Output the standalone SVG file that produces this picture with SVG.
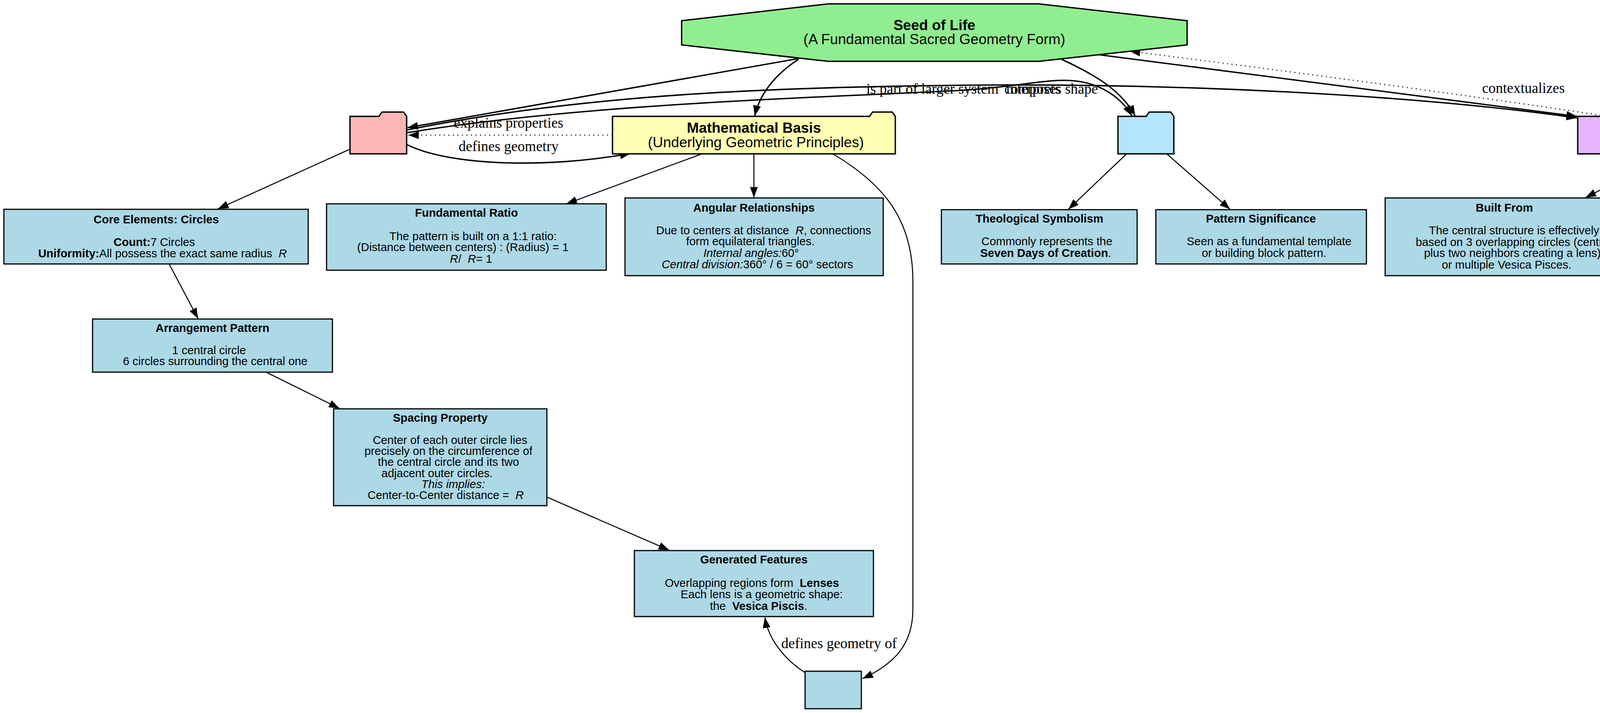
<svg xmlns="http://www.w3.org/2000/svg" width="5664" height="1826" viewBox="0 0 5664 1826">
<style>
text{white-space:pre;fill:#000}
.big{font-family:"Liberation Sans",Arial,sans-serif;font-size:37px;text-anchor:middle}
.nt{font-family:"Liberation Sans",Arial,sans-serif;font-size:29.3px;text-anchor:middle}
.b{font-weight:bold}
.i{font-style:italic}
.el{font-family:"Liberation Serif","Times New Roman",serif;font-size:37px;text-anchor:middle}
.box{fill:#ADD8E6;stroke:#000;stroke-width:3}
.fold{stroke:#000;stroke-width:3.5}
.e{fill:none;stroke:#000;stroke-width:2.6}
.e2{fill:none;stroke:#000;stroke-width:3.6}
.dot{fill:none;stroke:#000;stroke-width:2.6;stroke-dasharray:2.6 9}
</style>
<defs>
<marker id="ah" viewBox="0 0 27 20" markerWidth="27" markerHeight="20" refX="27" refY="10" orient="auto" markerUnits="userSpaceOnUse">
<path d="M0,0 L27,10 L0,20 z" fill="#000"/>
</marker>
</defs>
<rect width="5664" height="1826" fill="#fff"/>

<g id="connectors">
<path class="e2" d="M2044,150 L1043,327" marker-end="url(#ah)"/>
<path class="e2" d="M2044,152 C1985,190 1945,240 1932,297" marker-end="url(#ah)"/>
<path class="e2" d="M2718,152 C2800,190 2870,230 2906,297" marker-end="url(#ah)"/>
<path class="e2" d="M2812,140 L4037,298" marker-end="url(#ah)"/>
<path class="dot" d="M4109,297 C3700,235 3200,170 2892,131" marker-end="url(#ah)"/>
<path class="e2" d="M1041,333 C1500,240 2000,222 2500,218 C3000,214 3600,240 4037,302" marker-end="url(#ah)"/>
<path class="e2" d="M1041,340 C1500,265 2100,250 2450,232 C2600,224 2680,200 2750,207 C2820,214 2870,250 2898,297" marker-end="url(#ah)"/>
<path class="dot" d="M1568,346 L1045,346" marker-end="url(#ah)"/>
<path class="e2" d="M1041,370 C1150,425 1400,432 1614,393" marker-end="url(#ah)"/>
<path class="e" d="M896,382 L558,535" marker-end="url(#ah)"/>
<path class="e" d="M1797,394 L1450,522" marker-end="url(#ah)"/>
<path class="e" d="M1930,394 L1930,506" marker-end="url(#ah)"/>
<path class="e" d="M2132,394 C2260,470 2337,560 2337,720 L2337,1560 C2337,1650 2290,1700 2208,1738" marker-end="url(#ah)"/>
<path class="e" d="M2883,395 L2735,536" marker-end="url(#ah)"/>
<path class="e" d="M2988,395 L3149,536" marker-end="url(#ah)"/>
<path class="e" d="M4279,393 L4059,506" marker-end="url(#ah)"/>
<path class="e" d="M4410,393 L4514,536" marker-end="url(#ah)"/>
<path class="e" d="M4574,393 L4975,494" marker-end="url(#ah)"/>
<path class="e" d="M433,676 L507,816" marker-end="url(#ah)"/>
<path class="e" d="M681,953 L869,1046" marker-end="url(#ah)"/>
<path class="e" d="M1400,1273 L1713,1409" marker-end="url(#ah)"/>
<path class="e" d="M2063,1724 C2010,1690 1968,1640 1958,1581" marker-end="url(#ah)"/>
<text class="el" x="1302" y="327">explains properties</text>
<text class="el" x="1302" y="387">defines geometry</text>
<text class="el" x="2387" y="240">is part of larger system</text>
<text class="el" x="2691" y="240">composes shape</text>
<text class="el" x="2645" y="240">interprets</text>
<text class="el" x="3900" y="238">contextualizes</text>
<text class="el" x="2148" y="1660">defines geometry of</text>
</g>

<g id="seed">
<polygon points="2120,10 2660,10 3039,53 3039,115 2660,157 2120,157 1745,115 1745,53" fill="#90EE90" stroke="#000" stroke-width="3.5"/>
<text class="big b" x="2392" y="77">Seed of Life</text>
<text class="big" x="2392" y="113">(A Fundamental Sacred Geometry Form)</text>
</g>

<g id="core_structure">
<polygon class="fold" fill="#FFB6B6" points="896,394 896,298 970,298 978,287 1033,287 1041,298 1041,394"/>
</g>

<g id="math_basis">
<polygon class="fold" fill="#FFFFB3" points="1568,394 1568,298 2226,298 2234,287 2284,287 2292,298 2292,394"/>
<text class="big b" x="1930" y="340">Mathematical Basis</text>
<text class="big" x="1935" y="377">(Underlying Geometric Principles)</text>
</g>

<g id="symbolism">
<polygon class="fold" fill="#B3E5FC" points="2862,394 2862,298 2934,298 2942,287 2997,287 3005,298 3005,394"/>
</g>

<g id="relationship">
<polygon class="fold" fill="#E6B3FF" points="4039,394 4039,298 4638,298 4646,287 4704,287 4712,298 4712,394"/>
<text class="big b" x="4388" y="353">Relationship to Other Forms</text>
</g>

<g id="core_elements">
<rect class="box" x="10" y="536" width="779" height="140"/>
<text class="nt b" x="400" y="572">Core Elements: Circles</text>
<text class="nt" x="395" y="630"><tspan class="b">Count:</tspan>7 Circles</text>
<text class="nt" x="416" y="659"><tspan class="b">Uniformity:</tspan>All possess the exact same radius  <tspan class="i">R</tspan></text>
</g>

<g id="fundamental_ratio">
<rect class="box" x="836" y="522" width="716" height="170"/>
<text class="nt b" x="1194" y="555">Fundamental Ratio</text>
<text class="nt" x="1211" y="615">The pattern is built on a 1:1 ratio:</text>
<text class="nt" x="1185" y="643">(Distance between centers) : (Radius) = 1</text>
<text class="nt" x="1206" y="673"><tspan class="i">R</tspan>/  <tspan class="i">R</tspan>= 1</text>
</g>

<g id="angular">
<rect class="box" x="1600" y="507" width="661" height="199"/>
<text class="nt b" x="1930" y="542">Angular Relationships</text>
<text class="nt" x="1955" y="600">Due to centers at distance  <tspan class="i">R</tspan>, connections</text>
<text class="nt" x="1921" y="628">form equilateral triangles.</text>
<text class="nt" x="1923" y="658"><tspan class="i">Internal angles:</tspan>60°</text>
<text class="nt" x="1939" y="687"><tspan class="i">Central division:</tspan>360° / 6 = 60° sectors</text>
</g>

<g id="theological">
<rect class="box" x="2410" y="537" width="501" height="139"/>
<text class="nt b" x="2661" y="570">Theological Symbolism</text>
<text class="nt" x="2680" y="628">Commonly represents the</text>
<text class="nt" x="2677" y="658"><tspan class="b">Seven Days of Creation</tspan>.</text>
</g>

<g id="pattern_significance">
<rect class="box" x="2959" y="537" width="539" height="139"/>
<text class="nt b" x="3228" y="570">Pattern Significance</text>
<text class="nt" x="3249" y="628">Seen as a fundamental template</text>
<text class="nt" x="3236" y="658">or building block pattern.</text>
</g>

<g id="built_from">
<rect class="box" x="3546" y="507" width="610" height="199"/>
<text class="nt b" x="3851" y="542">Built From</text>
<text class="nt" x="3876" y="600">The central structure is effectively</text>
<text class="nt" x="3875" y="630">based on 3 overlapping circles (central</text>
<text class="nt" x="3876" y="658">plus two neighbors creating a lens),</text>
<text class="nt" x="3857" y="688">or multiple Vesica Pisces.</text>
</g>

<g id="component">
<rect class="box" x="4204" y="537" width="722" height="139"/>
<text class="nt b" x="4565" y="570">Component / Precursor To</text>
<text class="nt" x="4585" y="630">An integral part and foundational</text>
<text class="nt" x="4573" y="658">segment of the larger  <tspan class="b">Flower of Life</tspan>pattern.</text>
</g>

<g id="leads_towards">
<rect class="box" x="4977" y="492" width="676" height="227"/>
<text class="nt b" x="5315" y="527">Leads Towards</text>
<text class="nt" x="5334" y="587">Expansion of the pattern (adding</text>
<text class="nt" x="5334" y="615">more rings of circles) generates</text>
<text class="nt" x="5334" y="643">the Flower of Life, which contains</text>
<text class="nt" x="5310" y="673">the  <tspan class="b">Fruit of Life</tspan>and  <tspan class="b">Metatron's Cube</tspan></text>
<text class="nt" x="5323" y="702">(and thus the Platonic Solids).</text>
</g>

<g id="arrangement">
<rect class="box" x="237" y="817" width="614" height="136"/>
<text class="nt b" x="544" y="850">Arrangement Pattern</text>
<text class="nt" x="535" y="907">1 central circle</text>
<text class="nt" x="551" y="935">6 circles surrounding the central one</text>
</g>

<g id="spacing">
<rect class="box" x="854" y="1047" width="546" height="248"/>
<text class="nt b" x="1127" y="1080">Spacing Property</text>
<text class="nt" x="1152" y="1137">Center of each outer circle lies</text>
<text class="nt" x="1148" y="1165">precisely on the circumference of</text>
<text class="nt" x="1148" y="1193">the central circle and its two</text>
<text class="nt" x="1119" y="1222">adjacent outer circles.</text>
<text class="nt i" x="1160" y="1250">This implies:</text>
<text class="nt" x="1141" y="1278">Center-to-Center distance =  <tspan class="i">R</tspan></text>
</g>

<g id="generated">
<rect class="box" x="1624" y="1410" width="612" height="169"/>
<text class="nt b" x="1930" y="1443">Generated Features</text>
<text class="nt" x="1925" y="1503">Overlapping regions form  <tspan class="b">Lenses</tspan></text>
<text class="nt" x="1950" y="1532">Each lens is a geometric shape:</text>
<text class="nt" x="1942" y="1562">the  <tspan class="b">Vesica Piscis</tspan>.</text>
</g>

<g id="geometry_node">
<rect class="box" x="2061" y="1719" width="144" height="96"/>
</g>
</svg>
